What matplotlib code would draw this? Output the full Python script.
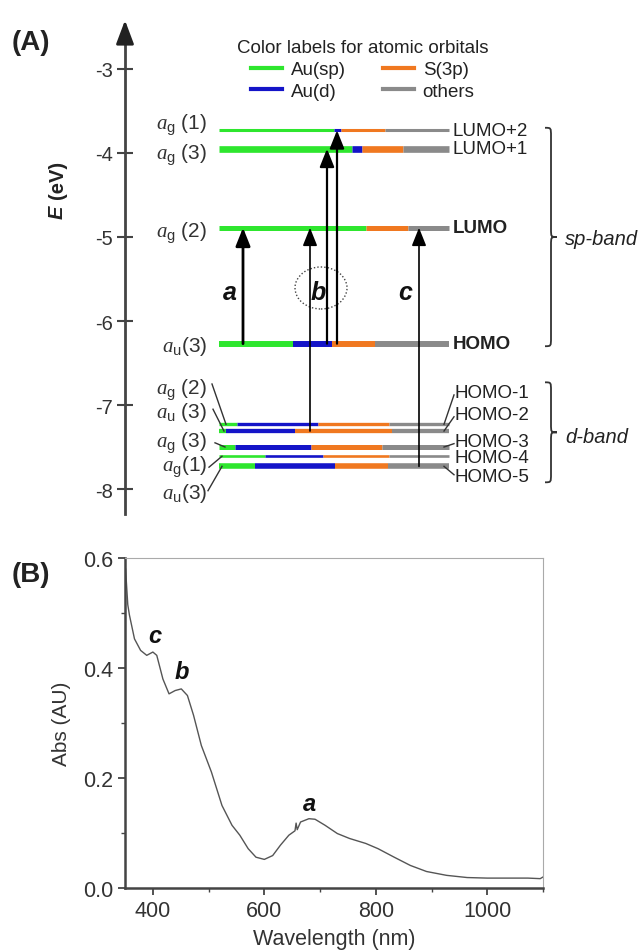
import matplotlib.pyplot as plt
from matplotlib.lines import Line2D
from matplotlib.patches import Ellipse, PathPatch
from matplotlib.path import Path
from matplotlib.ticker import MultipleLocator, FormatStrFormatter
import numpy as np

plt.rcParams['font.family'] = ['Liberation Sans', 'DejaVu Sans']
plt.rcParams['axes.unicode_minus'] = False
plt.rcParams['mathtext.fontset'] = 'custom'
plt.rcParams['mathtext.it'] = 'Liberation Serif:italic'
plt.rcParams['mathtext.rm'] = 'Liberation Sans'
plt.rcParams['mathtext.bf'] = 'Liberation Sans:bold'
plt.rcParams['text.color'] = '#222222'

# ---------------- panel A data ----------------
level_names = ['LUMO+2', 'LUMO+1', 'LUMO', 'HOMO',
               'HOMO-1', 'HOMO-2', 'HOMO-3', 'HOMO-4', 'HOMO-5']
level_energy = [-3.73, -3.95, -4.89, -6.27, -7.23, -7.31, -7.50, -7.61, -7.73]
level_sym = [r'$a_\mathrm{g}$ (1)', r'$a_\mathrm{g}$ (3)', r'$a_\mathrm{g}$ (2)',
             r'$a_\mathrm{u}$(3)', r'$a_\mathrm{g}$ (2)', r'$a_\mathrm{u}$ (3)',
             r'$a_\mathrm{g}$ (3)', r'$a_\mathrm{g}$(1)', r'$a_\mathrm{u}$(3)']
# orbital composition of each level (fraction of the bar)
frac_au_sp = [0.50, 0.58, 0.64, 0.32, 0.08, 0.03, 0.07, 0.20, 0.16]
frac_au_d = [0.03, 0.04, 0.00, 0.17, 0.35, 0.30, 0.33, 0.25, 0.35]
frac_s3p = [0.19, 0.18, 0.18, 0.19, 0.31, 0.42, 0.31, 0.29, 0.23]
frac_other = [0.28, 0.20, 0.18, 0.32, 0.26, 0.25, 0.29, 0.26, 0.27]
orbital_labels = ['Au(sp)', 'Au(d)', 'S(3p)', 'others']

# transitions a, b, c
trans_from = ['HOMO', 'HOMO-2', 'HOMO', 'HOMO', 'HOMO-5']
trans_to = ['LUMO', 'LUMO', 'LUMO+1', 'LUMO+2', 'LUMO']
peak_labels = ['a', 'b', 'c']

# ---------------- panel B data ----------------
wavelength = [351, 355, 358, 367, 378, 389, 400, 407, 418, 429, 440, 451, 462,
              473, 487, 505, 524, 542, 556, 571, 585, 600, 615, 629, 644, 655,
              657, 659, 665, 680, 691, 709, 731, 753, 782, 804, 833, 862, 891,
              927, 964, 1000, 1036, 1073, 1095, 1100]
absorbance = [0.580, 0.515, 0.496, 0.453, 0.432, 0.423, 0.429, 0.423, 0.380,
              0.353, 0.359, 0.362, 0.350, 0.314, 0.259, 0.211, 0.150, 0.114,
              0.096, 0.0715, 0.056, 0.052, 0.059, 0.078, 0.096, 0.104, 0.118,
              0.106, 0.120, 0.126, 0.125, 0.114, 0.099, 0.090, 0.081, 0.0715,
              0.056, 0.041, 0.030, 0.023, 0.019, 0.018, 0.018, 0.018, 0.017, 0.020]
peak_pos_nm = [681, 452, 404]
peak_pos_abs = [0.153, 0.394, 0.459]

# ---------------- styling ----------------
orb_colors = ['#2ee62e', '#1414c8', '#f07820', '#8a8a8a']
level_lw = [2.2, 4.8, 3.6, 4.3, 2.4, 3.1, 3.6, 1.9, 4.0]
bar_x0, bar_w = 219, 230
trans_x = [243, 310, 327, 337, 419]
trans_lw = [2.0, 1.2, 1.6, 1.6, 1.2]

fig = plt.figure(figsize=(6.41, 9.53), dpi=100)

# ================= panel A =================
ax = fig.add_axes([0, 413 / 953, 1, 540 / 953])
ax.set_xlim(0, 641)
ax.set_ylim(-8.595, -2.167)
for s in ['top', 'right', 'bottom']:
    ax.spines[s].set_visible(False)
ax.spines['left'].set_position(('data', 125))
ax.spines['left'].set_bounds(-8.30, -2.6)
ax.spines['left'].set_linewidth(2)
ax.spines['left'].set_color('#444444')
ax.set_xticks([])
ax.set_yticks([-8, -7, -6, -5, -4, -3])
ax.tick_params(axis='y', direction='inout', length=11, width=1.5,
               color='#444444', labelsize=14.5, pad=3, labelcolor='#333333')
ax.patch.set_alpha(0)
ax.annotate('', xy=(125, -2.42), xytext=(125, -2.65),
            arrowprops=dict(arrowstyle='-|>,head_length=0.8,head_width=0.3',
                            color='#222222', lw=2, shrinkA=0, shrinkB=0,
                            mutation_scale=18))

ax.text(57, -4.69, 'E', rotation=90, ha='center', va='center',
        fontsize=14.5, fontweight='bold', fontstyle='italic')
ax.text(57, -4.31, '(eV)', rotation=90, ha='center', va='center',
        fontsize=14.5, fontweight='bold')

# energy level bars
comp = np.array([frac_au_sp, frac_au_d, frac_s3p, frac_other]).T
for i, E in enumerate(level_energy):
    f = comp[i] / comp[i].sum()
    left = bar_x0 + bar_w * np.concatenate([[0], np.cumsum(f)[:-1]])
    right = left + bar_w * f
    for k in range(4):
        if f[k] > 0:
            ax.hlines(E, left[k], right[k], colors=orb_colors[k],
                      lw=level_lw[i], zorder=3)

idx = {n: i for i, n in enumerate(level_names)}

# left symmetry labels (sp-band directly, d-band with leader lines)
sp_label_E = [-3.66, -4.02, -4.95, -6.29]
for i in range(4):
    ax.text(207, sp_label_E[i], level_sym[i], ha='right', va='center',
            fontsize=15, color='#333333')
dleft_label_E = [-6.81, -7.08, -7.44, -7.73, -8.04]
dleft_lead = [(212, 226), (213, 224), (215, 225), (209, 222), (208, 222)]
dleft_lead_E = [-6.75, -7.05, -7.45, -7.74, -8.02]
for j in range(5):
    i = 4 + j
    ax.text(207, dleft_label_E[j], level_sym[i], ha='right', va='center',
            fontsize=15, color='#333333')
    ax.plot([dleft_lead[j][0], dleft_lead[j][1]], [dleft_lead_E[j], level_energy[i]],
            color='#333333', lw=1, zorder=4)

# right level names
for i in range(4):
    bold = level_names[i] in ('LUMO', 'HOMO')
    ax.text(453, level_energy[i], level_names[i], ha='left', va='center',
            fontsize=13.5, fontweight='bold' if bold else 'normal')
dright_label_E = [-6.85, -7.11, -7.43, -7.62, -7.85]
for j in range(5):
    i = 4 + j
    ax.text(455, dright_label_E[j], level_names[i], ha='left', va='center',
            fontsize=13.5)
    if j != 3:
        ax.plot([444, 454], [level_energy[i], dright_label_E[j] + (-0.03 if j < 3 else 0.02)],
                color='#333333', lw=1, zorder=4)

# transition arrows
for x, a, b, lw in zip(trans_x, trans_from, trans_to, trans_lw):
    ax.annotate('', xy=(x, level_energy[idx[b]]), xytext=(x, level_energy[idx[a]]),
                arrowprops=dict(arrowstyle='-|>,head_length=0.55,head_width=0.22',
                                color='black', lw=lw, shrinkA=0, shrinkB=0,
                                mutation_scale=20), zorder=5)
for x, lab in zip([230, 318, 405], peak_labels):
    ax.text(x, -5.65, lab, ha='center', va='center', fontsize=18,
            fontweight='bold', fontstyle='italic', color='#111111')
ax.add_patch(Ellipse((321, -5.607), 52, 0.5, fill=False, ls=(0, (1, 1.5)),
                     lw=1, ec='#444444'))


def brace(x0, top, bot, w=12, r=0.1):
    mid = (top + bot) / 2
    xm, xt = x0 + w / 2, x0 + w
    verts = [(x0, top), (xm, top), (xm, top), (xm, top - r),
             (xm, mid + r), (xm, mid), (xm, mid), (xt, mid),
             (xm, mid), (xm, mid), (xm, mid - r),
             (xm, bot + r), (xm, bot), (xm, bot), (x0, bot)]
    C = Path.CURVE4
    codes = [Path.MOVETO, C, C, C, Path.LINETO, C, C, C, C, C, C,
             Path.LINETO, C, C, C]
    ax.add_patch(PathPatch(Path(verts, codes), fc='none', ec='#333333', lw=1.3))


brace(545, -3.70, -6.30)
ax.text(565, -5.02, 'sp-band', ha='left', va='center', fontsize=14.5,
        fontstyle='italic')
brace(545, -6.73, -7.92)
ax.text(565, -7.37, 'd-band', ha='left', va='center', fontsize=14.5,
        fontstyle='italic')

handles = [Line2D([], [], color=orb_colors[k], lw=3) for k in range(4)]
ax.legend(handles, orbital_labels, ncol=2, title='Color labels for atomic orbitals',
          frameon=False, fontsize=13.5, title_fontsize=13.5, handlelength=1.65,
          handletextpad=0.45, columnspacing=2.0, labelspacing=0.25,
          loc='upper center', bbox_to_anchor=(363 / 641, 1 - 31 / 540),
          borderpad=0)

fig.text(12 / 641, 1 - 43 / 953, '(A)', ha='left', va='center', fontsize=20,
         fontweight='bold')

# ================= panel B =================
ax2 = fig.add_axes([125 / 641, 64 / 953, 418 / 641, 330 / 953])
ax2.plot(wavelength, absorbance, color='#555555', lw=1.0)
ax2.set_xlim(350, 1100)
ax2.set_ylim(0, 0.6)
ax2.xaxis.set_major_locator(MultipleLocator(200))
ax2.xaxis.set_minor_locator(MultipleLocator(100))
ax2.yaxis.set_major_locator(MultipleLocator(0.2))
ax2.yaxis.set_minor_locator(MultipleLocator(0.1))
ax2.yaxis.set_major_formatter(FormatStrFormatter('%.1f'))
ax2.tick_params(which='major', direction='out', length=5, width=1.3,
                color='#444444', labelsize=15.5, labelcolor='#333333')
ax2.tick_params(which='minor', direction='out', length=3, width=1.0,
                color='#444444')
for s in ['left', 'bottom']:
    ax2.spines[s].set_linewidth(1.8)
    ax2.spines[s].set_color('#444444')
for s in ['top', 'right']:
    ax2.spines[s].set_linewidth(0.8)
    ax2.spines[s].set_color('#aaaaaa')
ax2.set_xlabel('Wavelength (nm)', fontsize=15.5, color='#333333')
ax2.set_ylabel('Abs (AU)', fontsize=15, color='#333333')
ax2.xaxis.set_label_coords(0.5, -0.12)
ax2.yaxis.set_label_coords(-0.13, 0.5)
for x, y, lab in zip(peak_pos_nm, peak_pos_abs, peak_labels):
    ax2.text(x, y, lab, ha='center', va='center', fontsize=17,
             fontweight='bold', fontstyle='italic', color='#111111')

fig.text(12 / 641, 1 - 575 / 953, '(B)', ha='left', va='center', fontsize=20,
         fontweight='bold')

fig.savefig('out.png', dpi=100)
